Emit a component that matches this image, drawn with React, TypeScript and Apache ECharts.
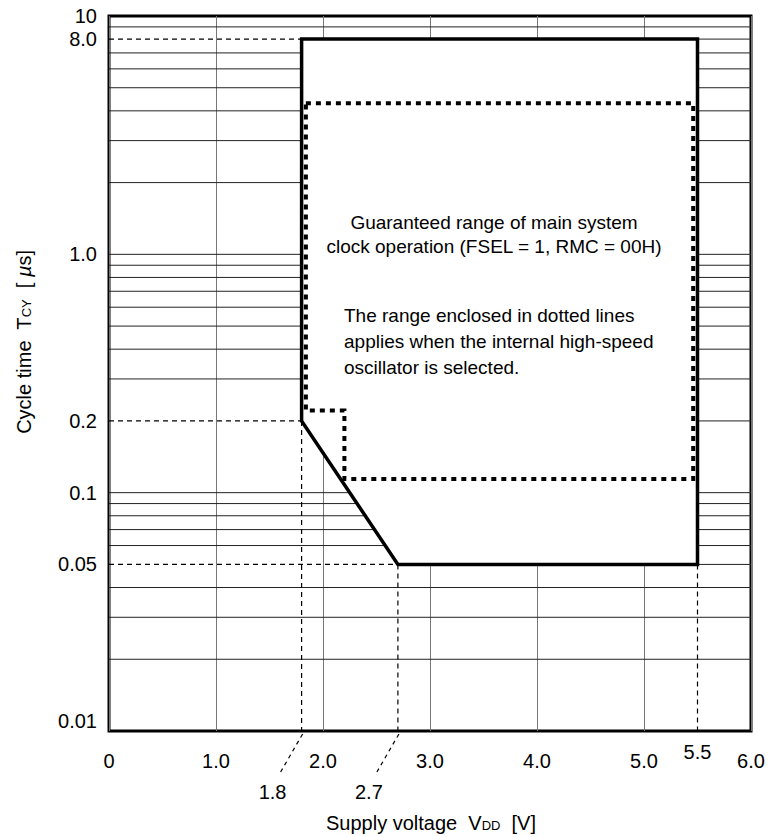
import React, { useEffect, useRef } from "react";
import * as echarts from "echarts";

const FONT = '"Liberation Sans", Arial, Helvetica, sans-serif';

// Axis ticks / labels
const xTickLabels = ["0", "1.0", "2.0", "3.0", "4.0", "5.0", "6.0"];
const yTickValues = [10, 8, 1, 0.2, 0.1, 0.05, 0.01];
const yTickLabels = ["10", "8.0", "1.0", "0.2", "0.1", "0.05", "0.01"];

// Horizontal grid lines (log-spaced)
const yGridFull = [9, 7, 6, 5, 4, 3, 2, 1, 0.9, 0.8, 0.7, 0.6, 0.5, 0.4, 0.3, 0.1, 0.09, 0.08, 0.07, 0.06, 0.04, 0.03, 0.02];
const yGridRightOnly = [8, 0.2, 0.05];

// Guaranteed operating range (solid outline), [V_DD, T_CY]
const guaranteedRange = [
  [1.8, 8],
  [5.5, 8],
  [5.5, 0.05],
  [2.7, 0.05],
  [1.8, 0.2],
];

// Internal high-speed oscillator range (dotted outline)
const oscillatorRange = [
  [1.84, 4.3],
  [5.46, 4.3],
  [5.46, 0.114],
  [2.2, 0.114],
  [2.2, 0.221],
  [1.84, 0.221],
];

// Dashed guide lines
const guideLines = [
  [[0, 8], [1.8, 8]],
  [[0, 0.2], [1.8, 0.2]],
  [[0, 0.05], [2.7, 0.05]],
  [[1.8, 0.2], [1.8, 0.01]],
  [[2.7, 0.05], [2.7, 0.01]],
  [[5.5, 0.05], [5.5, 0.01]],
];

const markerVoltages = [1.8, 2.7];
const markerLabels = ["1.8", "2.7"];
const edgeVoltages = [5.5];
const edgeLabels = ["5.5"];

const rangeNote = ["Guaranteed range of main system", "clock operation (FSEL = 1, RMC = 00H)"];
const oscNote = [
  "The range enclosed in dotted lines",
  "applies when the internal high-speed",
  "oscillator is selected.",
];

const X_MIN = 0;
const X_MAX = 6;
const Y_MIN = 0.01;
const Y_MAX = 10;

function buildOption(): any {
  const series: any[] = [];

  // horizontal grid lines
  series.push({
    type: "custom",
    silent: true,
    z: 1,
    data: yGridFull.map((v) => [X_MIN, v]),
    renderItem: (params: any, api: any) => {
      const v = api.value(1);
      const a = api.coord([X_MIN, v]);
      const b = api.coord([X_MAX, v]);
      return {
        type: "line",
        shape: { x1: a[0], y1: a[1], x2: b[0], y2: b[1] },
        style: { stroke: "#222", lineWidth: 1 },
      };
    },
  });
  series.push({
    type: "custom",
    silent: true,
    z: 1,
    data: yGridRightOnly.map((v) => [5.5, v]),
    renderItem: (params: any, api: any) => {
      const v = api.value(1);
      const a = api.coord([api.value(0), v]);
      const b = api.coord([X_MAX, v]);
      return {
        type: "line",
        shape: { x1: a[0], y1: a[1], x2: b[0], y2: b[1] },
        style: { stroke: "#222", lineWidth: 1 },
      };
    },
  });

  // dashed guides
  guideLines.forEach((pts) => {
    series.push({
      type: "line",
      data: pts,
      symbol: "none",
      silent: true,
      z: 2,
      lineStyle: { color: "#000", width: 1.2, type: [5, 4] },
    });
  });

  // guaranteed range polygon
  series.push({
    type: "custom",
    silent: true,
    z: 3,
    data: guaranteedRange,
    renderItem: (params: any, api: any) => {
      if (params.dataIndex !== 0) return null;
      return {
        type: "polygon",
        shape: { points: guaranteedRange.map((p) => api.coord(p)) },
        style: { fill: "#fff", stroke: "#000", lineWidth: 3.5, lineJoin: "miter" },
      };
    },
  });

  // dotted oscillator range
  series.push({
    type: "custom",
    silent: true,
    z: 4,
    data: oscillatorRange,
    renderItem: (params: any, api: any) => {
      if (params.dataIndex !== 0) return null;
      return {
        type: "polygon",
        shape: { points: oscillatorRange.map((p) => api.coord(p)) },
        style: { fill: "none", stroke: "#000", lineWidth: 4, lineDash: [5, 5], lineCap: "butt" },
      };
    },
  });

  // y tick labels
  series.push({
    type: "custom",
    silent: true,
    clip: false,
    z: 5,
    data: yTickValues.map((v) => [X_MIN, v]),
    renderItem: (params: any, api: any) => {
      const v = api.value(1);
      const p = api.coord([api.value(0), v]);
      const lift = v <= Y_MIN ? 10 : 0;
      return {
        type: "text",
        x: p[0] - 12,
        y: p[1] - lift,
        style: {
          text: yTickLabels[params.dataIndex],
          fontSize: 20,
          fontFamily: FONT,
          fill: "#000",
          align: "right",
          verticalAlign: "middle",
        },
      };
    },
  });

  // marker voltages with leader lines below the axis
  series.push({
    type: "custom",
    silent: true,
    clip: false,
    z: 5,
    data: markerVoltages.map((v) => [v, Y_MIN]),
    renderItem: (params: any, api: any) => {
      const p = api.coord([api.value(0), api.value(1)]);
      return {
        type: "group",
        children: [
          {
            type: "line",
            shape: { x1: p[0] + 1, y1: p[1] + 3, x2: p[0] - 21, y2: p[1] + 41 },
            style: { stroke: "#000", lineWidth: 1.2, lineDash: [4, 4] },
          },
          {
            type: "text",
            x: p[0] - 29,
            y: p[1] + 61,
            style: {
              text: markerLabels[params.dataIndex],
              fontSize: 20,
              fontFamily: FONT,
              fill: "#000",
              align: "center",
              verticalAlign: "middle",
            },
          },
        ],
      };
    },
  });

  // 5.5 label (raised)
  series.push({
    type: "custom",
    silent: true,
    clip: false,
    z: 5,
    data: edgeVoltages.map((v) => [v, Y_MIN]),
    renderItem: (params: any, api: any) => {
      const p = api.coord([api.value(0), api.value(1)]);
      return {
        type: "text",
        x: p[0],
        y: p[1] + 21,
        style: {
          text: edgeLabels[params.dataIndex],
          fontSize: 20,
          fontFamily: FONT,
          fill: "#000",
          align: "center",
          verticalAlign: "middle",
        },
      };
    },
  });

  const noteStyle = { fontSize: 19, fontFamily: FONT, fill: "#000" };

  const graphic: any[] = [
    ...rangeNote.map((t, i) => ({
      type: "text",
      x: 494,
      y: 222 + i * 24,
      z: 10,
      style: { ...noteStyle, text: t, align: "center", verticalAlign: "middle" },
    })),
    ...oscNote.map((t, i) => ({
      type: "text",
      x: 344,
      y: 315 + i * 26,
      z: 10,
      style: { ...noteStyle, text: t, align: "left", verticalAlign: "middle" },
    })),
    {
      type: "text",
      x: 431,
      y: 823,
      style: {
        text: "Supply voltage  V{s|DD}  [V]",
        fontSize: 20,
        fontFamily: FONT,
        fill: "#000",
        align: "center",
        verticalAlign: "middle",
        rich: {
          s: { fontSize: 13, fontFamily: FONT, fill: "#000", verticalAlign: "bottom", padding: [0, 0, 1, 0] },
        },
      },
    },
    {
      type: "text",
      x: 24,
      y: 342,
      rotation: Math.PI / 2,
      style: {
        text: "Cycle time  T{s|CY}  [ {i|µ}s]",
        fontSize: 20,
        fontFamily: FONT,
        fill: "#000",
        align: "center",
        verticalAlign: "middle",
        rich: {
          s: { fontSize: 13, fontFamily: FONT, fill: "#000", verticalAlign: "bottom", padding: [0, 0, 1, 0] },
          i: { fontSize: 20, fontFamily: FONT, fontStyle: "italic", fill: "#000" },
        },
      },
    },
  ];

  return {
    animation: false,
    backgroundColor: "#fff",
    grid: {
      left: 109,
      right: 17,
      top: 16,
      bottom: 106,
      show: true,
      borderColor: "#000",
      borderWidth: 3,
      backgroundColor: "transparent",
    },
    xAxis: {
      type: "value",
      min: X_MIN,
      max: X_MAX,
      interval: 1,
      axisLine: { show: false },
      axisTick: { show: false },
      axisLabel: {
        margin: 20,
        fontSize: 20,
        fontFamily: FONT,
        color: "#000",
        formatter: (v: number) => xTickLabels[Math.round(v)] ?? "",
      },
      splitLine: { show: true, lineStyle: { color: "#777", width: 1 } },
    },
    yAxis: {
      type: "log",
      logBase: 10,
      min: Y_MIN,
      max: Y_MAX,
      axisLine: { show: false },
      axisTick: { show: false },
      axisLabel: { show: false },
      splitLine: { show: false },
    },
    series,
    graphic,
  };
}

export default function App() {
  const ref = useRef<HTMLDivElement>(null);
  useEffect(() => {
    document.body.style.margin = "0";
    if (!ref.current) return;
    const chart = echarts.init(ref.current, null, { renderer: "svg" });
    chart.setOption(buildOption());
    return () => {
      chart.dispose();
    };
  }, []);
  return <div ref={ref} style={{ width: 768, height: 837 }} />;
}
